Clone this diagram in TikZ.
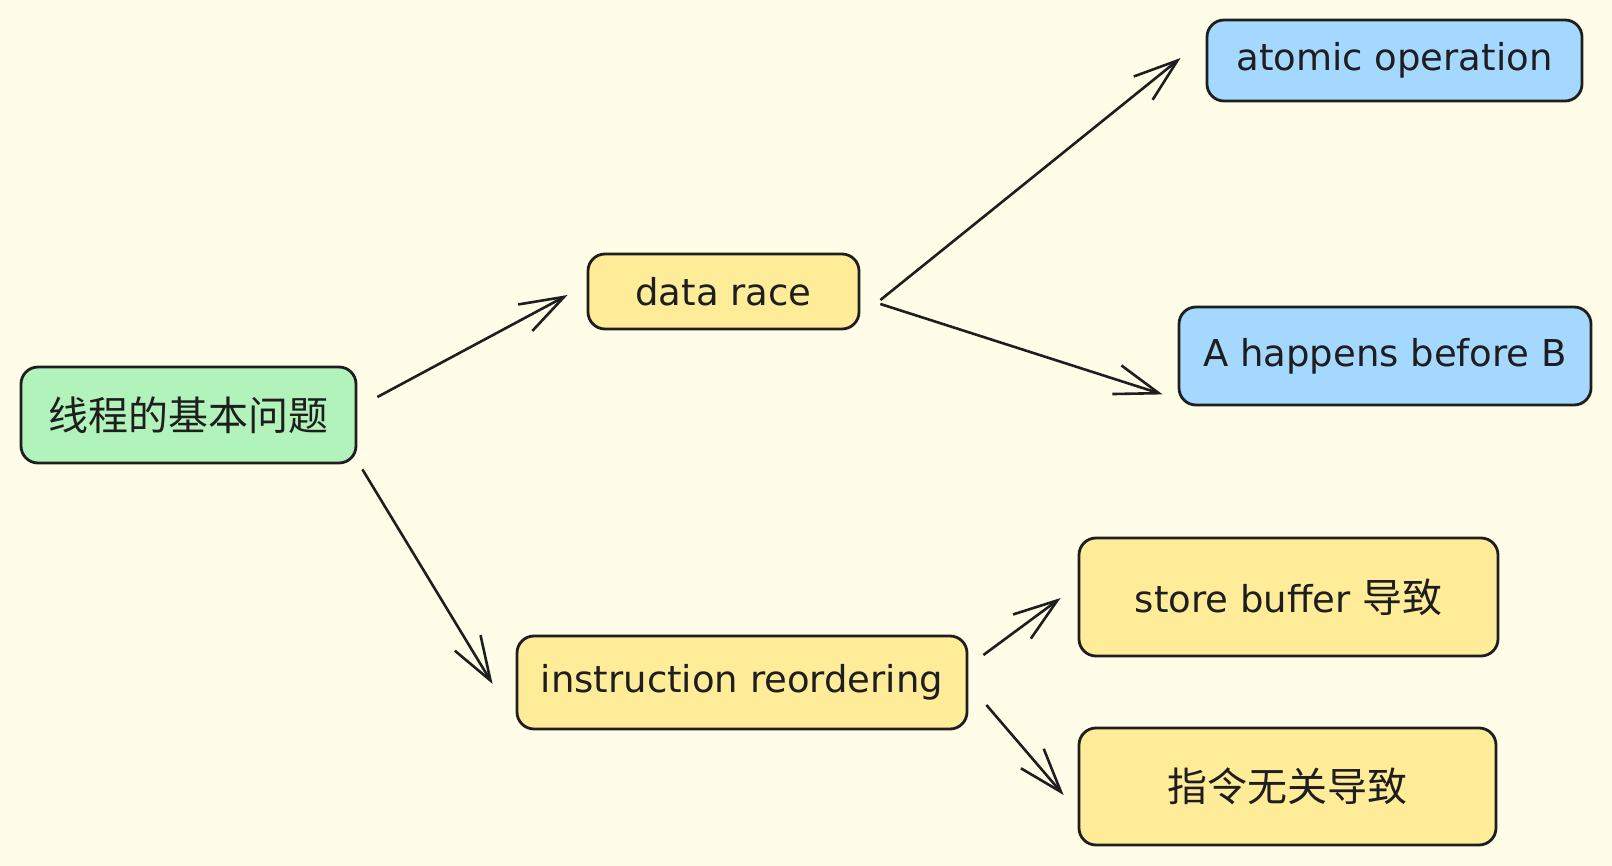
\documentclass[tikz,border=0pt]{standalone}
\usepackage{fontspec}
\setmainfont{DejaVu Sans}
\newfontfamily\cjk[Scale=1.08]{Noto Sans CJK SC}
\usetikzlibrary{arrows.meta}
\definecolor{bgcol}{HTML}{FFFDE8}
\definecolor{inkcol}{HTML}{1E1E1E}
\definecolor{greencol}{HTML}{B2F2BB}
\definecolor{yellowcol}{HTML}{FFEC99}
\definecolor{bluecol}{HTML}{A5D8FF}

\begin{document}
\begin{tikzpicture}[x=1pt, y=-1pt, font=\fontsize{37}{44}\selectfont, inkcol,
    box/.style = {draw=inkcol, line width=2.8pt, rounded corners=17pt, inner sep=0pt, text=inkcol},
    root/.style = {box, fill=greencol},
    topic/.style = {box, fill=yellowcol},
    leaf/.style = {box, fill=bluecol},
    arr/.style = {-{Straight Barb[length=44pt, width=30pt]}, line width=2.6pt, draw=inkcol}]
                \fill[bgcol] (0,0) rectangle (1612,866);
                \useasboundingbox (0,0) rectangle (1612,866);
                \node[root, minimum width=335pt, minimum height=96pt] (q0) at (188.5,415) {\cjk 线程的基本问题};
                \node[topic, minimum width=271pt, minimum height=75pt] (t0) at (723.5,291.5) {data race};
                \node[topic, minimum width=450pt, minimum height=93pt] (t1) at (742,682.5) {instruction reordering};
                \node[leaf, minimum width=375pt, minimum height=81pt] (a0) at (1394.5,60.5) {atomic operation};
                \node[leaf, minimum width=412pt, minimum height=98pt] (a1) at (1385,356) {A happens before B};
                \node[topic, minimum width=419pt, minimum height=118pt] (b0) at (1288.5,597) {store buffer {\cjk 导致}};
                \node[topic, minimum width=417pt, minimum height=117pt] (b1) at (1287.5,786.5) {\cjk 指令无关导致};
                \draw[arr] ([shift={(20,-18)}]q0.east) -- ([shift={(-19,3.5)}]t0.west);
                \draw[arr] ([shift={(5,5)}]q0.south east) -- ([shift={(-23,1.5)}]t1.west);
                \draw[arr] ([shift={(20,8.5)}]t0.east) -- ([shift={(-25,-2.5)}]a0.west);
                \draw[arr] ([shift={(20,12.5)}]t0.east) -- ([shift={(-15,-12)}]a1.south west);
                \draw[arr] ([shift={(15,-27.5)}]t1.east) -- ([shift={(-17,1)}]b0.west);
                \draw[arr] ([shift={(18,22.5)}]t1.east) -- ([shift={(-14,8.5)}]b1.west);
\end{tikzpicture}
\end{document}
